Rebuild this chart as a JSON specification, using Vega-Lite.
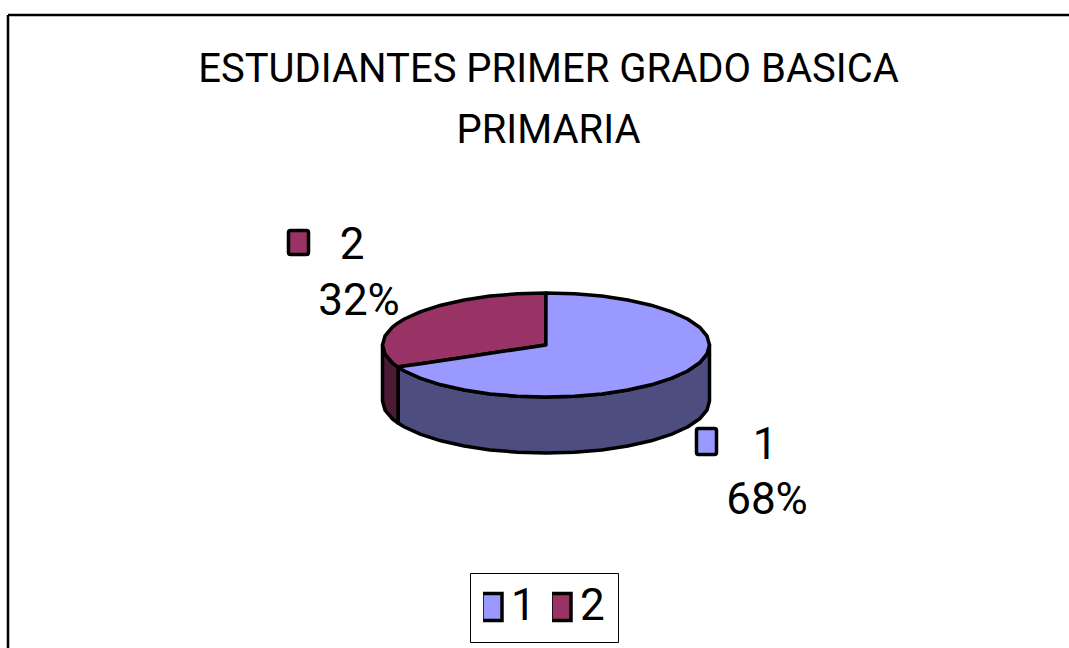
{"$schema":"https://vega.github.io/schema/vega-lite/v6.json","width":1069,"height":648,"padding":0,"autosize":{"type":"none"},"background":"white","view":{"stroke":null},
"title":{"text":["ESTUDIANTES PRIMER GRADO BASICA","PRIMARIA"],"orient":"top","anchor":"middle","offset":-151,"dx":14,"font":"Roboto","fontSize":40,"fontWeight":"normal","lineHeight":61,"color":"#000"},
"datasets":{
"frame":[{"x":8,"x2":1069,"y":15,"y2":15},{"x":8,"x2":8,"y":15,"y2":648}],
"pie":[
{"part":"w1","x":398,"y":367.1,"y2":423.1},{"part":"w1","x":404.4,"y":371,"y2":427},{"part":"w1","x":420.8,"y":378.4,"y2":434.4},{"part":"w1","x":440.9,"y":384.8,"y2":440.8},{"part":"w1","x":464.25,"y":390,"y2":446},{"part":"w1","x":490.1,"y":393.9,"y2":449.9},{"part":"w1","x":517.6,"y":396.2,"y2":452.2},{"part":"w1","x":546,"y":397,"y2":453},{"part":"w1","x":574.4,"y":396.2,"y2":452.2},{"part":"w1","x":601.9,"y":393.9,"y2":449.9},{"part":"w1","x":627.75,"y":390,"y2":446},{"part":"w1","x":651.1,"y":384.8,"y2":440.8},{"part":"w1","x":671.2,"y":378.4,"y2":434.4},{"part":"w1","x":687.6,"y":371,"y2":427},{"part":"w1","x":699.6,"y":362.8,"y2":418.8},{"part":"w1","x":707,"y":354,"y2":410},{"part":"w1","x":709.5,"y":345,"y2":401},
{"part":"w2","x":382.5,"y":345,"y2":401},{"part":"w2","x":385,"y":354,"y2":410},{"part":"w2","x":392.4,"y":362.8,"y2":418.8},{"part":"w2","x":398,"y":367.1,"y2":423.1},
{"part":"s2","x":382.5,"y":345,"y2":345},{"part":"s2","x":385,"y":336,"y2":354},{"part":"s2","x":392.4,"y":327.2,"y2":362.8},{"part":"s2","x":398,"y":322.9,"y2":367.1},{"part":"s2","x":404.4,"y":319,"y2":366.1},{"part":"s2","x":420.8,"y":311.6,"y2":363.7},{"part":"s2","x":440.9,"y":305.2,"y2":360.7},{"part":"s2","x":464.25,"y":300,"y2":357.2},{"part":"s2","x":490.1,"y":296.1,"y2":353.3},{"part":"s2","x":517.6,"y":293.8,"y2":349.2},{"part":"s2","x":546,"y":293,"y2":345},
{"part":"s1","x":398,"y":367.1,"y2":367.1},{"part":"s1","x":404.4,"y":366.1,"y2":371},{"part":"s1","x":420.8,"y":363.7,"y2":378.4},{"part":"s1","x":440.9,"y":360.7,"y2":384.8},{"part":"s1","x":464.25,"y":357.2,"y2":390},{"part":"s1","x":490.1,"y":353.3,"y2":393.9},{"part":"s1","x":517.6,"y":349.2,"y2":396.2},{"part":"s1","x":545.9,"y":345,"y2":397},{"part":"s1","x":546,"y":293,"y2":397},{"part":"s1","x":574.4,"y":293.8,"y2":396.2},{"part":"s1","x":601.9,"y":296.1,"y2":393.9},{"part":"s1","x":627.75,"y":300,"y2":390},{"part":"s1","x":651.1,"y":305.2,"y2":384.8},{"part":"s1","x":671.2,"y":311.6,"y2":378.4},{"part":"s1","x":687.6,"y":319,"y2":371},{"part":"s1","x":699.6,"y":327.2,"y2":362.8},{"part":"s1","x":707,"y":336,"y2":354},{"part":"s1","x":709.5,"y":345,"y2":345}
],
"keys":[{"serie":"1","x":696.5,"x2":716.5,"y":428.5,"y2":454.5},{"serie":"2","x":288.5,"x2":308.5,"y":230.5,"y2":254.5}],
"labels":[{"t":"2","x":352,"y":259},{"t":"32%","x":359,"y":315},{"t":"1","x":765,"y":459},{"t":"68%","x":767,"y":514}]
},
"layer":[
{"data":{"name":"frame"},"mark":{"type":"rule","stroke":"#000","strokeWidth":2.5},"encoding":{"x":{"field":"x","type":"quantitative","scale":{"domain":[0,1069],"nice":false,"zero":false},"axis":null},"x2":{"field":"x2"},"y":{"field":"y","type":"quantitative","scale":{"domain":[648,0],"nice":false,"zero":false},"axis":null},"y2":{"field":"y2"}}},
{"data":{"name":"pie"},"mark":{"type":"area","orient":"vertical","stroke":"#000","strokeWidth":3.5,"strokeJoin":"round","opacity":1,"interpolate":"linear"},"encoding":{"x":{"field":"x","type":"quantitative","scale":{"domain":[0,1069],"nice":false,"zero":false},"axis":null},"y":{"field":"y","type":"quantitative","stack":null,"scale":{"domain":[648,0],"nice":false,"zero":false},"axis":null},"y2":{"field":"y2"},"color":{"field":"part","type":"nominal","legend":null,"scale":{"domain":["w1","w2","s2","s1"],"range":["#4d4d80","#4d1a33","#993366","#9999ff"]}}}},
{"data":{"name":"keys"},"mark":{"type":"rect","stroke":"#000","strokeWidth":3.5,"cornerRadius":2},"encoding":{"x":{"field":"x","type":"quantitative","scale":{"domain":[0,1069],"nice":false,"zero":false},"axis":null},"x2":{"field":"x2"},"y":{"field":"y","type":"quantitative","scale":{"domain":[648,0],"nice":false,"zero":false},"axis":null},"y2":{"field":"y2"},"color":{"field":"serie","type":"nominal","scale":{"domain":["1","2"],"range":["#9999ff","#993366"]},"legend":{"title":null,"orient":"none","legendX":470,"legendY":573,"direction":"horizontal","columns":2,"padding":13,"clipHeight":42,"fillColor":"#fff","strokeColor":"#000","symbolType":"M-1,-1.35H1V1.35H-1Z","symbolSize":400,"symbolOffset":-13,"symbolStrokeColor":"#000","symbolStrokeWidth":3.5,"labelFont":"Roboto","labelFontSize":44,"labelColor":"#000","labelOffset":-3,"columnPadding":16}}}},
{"data":{"name":"labels"},"mark":{"type":"text","font":"Roboto","fontSize":44,"align":"center","baseline":"alphabetic","color":"#000"},"encoding":{"x":{"field":"x","type":"quantitative","scale":{"domain":[0,1069],"nice":false,"zero":false},"axis":null},"y":{"field":"y","type":"quantitative","scale":{"domain":[648,0],"nice":false,"zero":false},"axis":null},"text":{"field":"t","type":"nominal"}}}
],
"resolve":{"scale":{"color":"independent"}}
}
